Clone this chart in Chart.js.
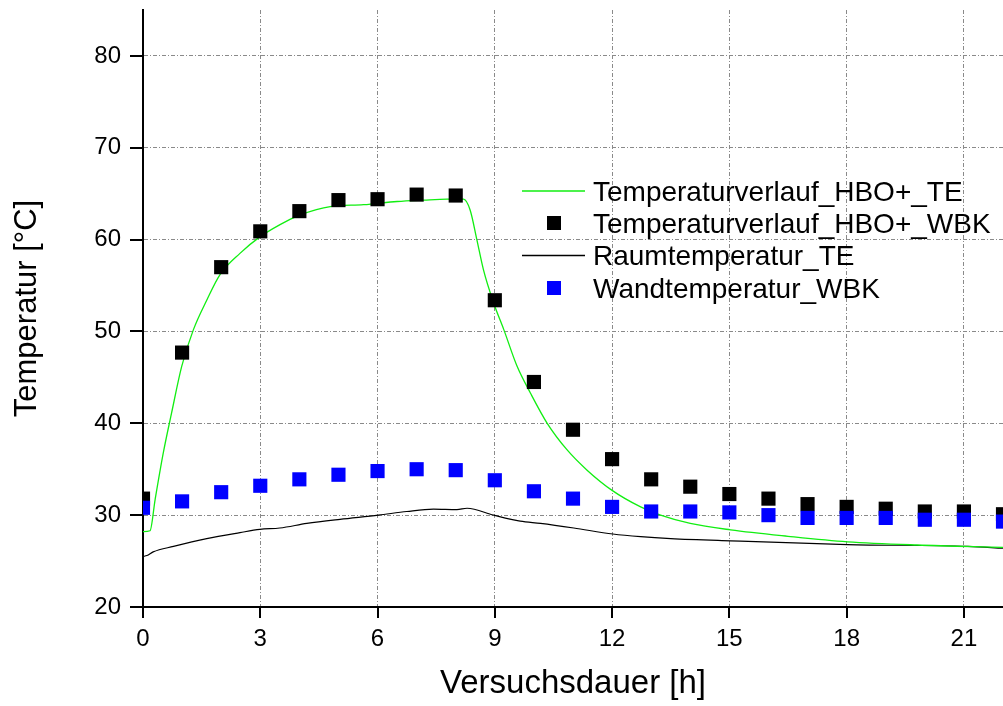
<!DOCTYPE html>
<html>
<head>
<meta charset="utf-8">
<script src="https://cdn.jsdelivr.net/npm/chart.js@4/dist/chart.umd.min.js"></script>
<style>
  html, body { margin: 0; padding: 0; background: #fff; }
  canvas { display: block; }
</style>
</head>
<body>
<canvas id="chart" width="1003" height="706"></canvas>
<script>
// Messpunkte (WBK) stündlich
const hours = [0, 1, 2, 3, 4, 5, 6, 7, 8, 9, 10, 11, 12, 13, 14, 15, 16, 17, 18, 19, 20, 21, 22];
const hboWbk = [31.8, 47.7, 57.0, 60.9, 63.1, 64.3, 64.4, 64.9, 64.8, 53.4, 44.5, 39.3, 36.1,
  33.9, 33.1, 32.3, 31.8, 31.2, 30.9, 30.7, 30.4, 30.4, 30.1];
const wandWbk = [30.8, 31.5, 32.5, 33.2, 33.9, 34.4, 34.8, 35.0, 34.9, 33.8, 32.6, 31.8, 30.9,
  30.4, 30.4, 30.3, 30.0, 29.7, 29.7, 29.7, 29.5, 29.5, 29.3];

// Thermoelement-Verläufe
const hboTeX = [0, 0.18, 0.31, 0.52, 0.73, 0.99, 1.29, 1.63, 1.97, 2.48, 2.99, 3.76, 4.02, 4.79,
  5.64, 6.5, 7.18, 7.78, 8.2, 8.37, 8.54, 8.71, 8.97, 9.23, 9.57, 9.91, 10.34, 10.85, 11.36,
  12.0, 12.73, 13.24, 14.0, 15.03, 16.5, 18.02, 19.8, 22.0];
const hboTeY = [28.2, 28.3, 31.7, 36.8, 41.1, 46.2, 50.2, 53.4, 56.2, 58.5, 60.3, 62.2, 62.7, 63.6,
  63.8, 64.15, 64.3, 64.4, 64.4, 63.2, 60.0, 56.7, 53.1, 50.2, 46.2, 43.3, 40.0, 37.1, 34.9,
  32.7, 30.9, 30.0, 29.1, 28.4, 27.7, 27.1, 26.75, 26.5];
const raumTeX = [0, 0.1, 0.26, 0.78, 1.63, 2.48, 2.99, 3.5, 4.19, 5.04, 6.02, 6.75, 7.43, 8.03,
  8.29, 8.97, 9.65, 10.17, 11.02, 12.02, 12.73, 13.5, 15.03, 18.02, 21.1, 22.0];
const raumTeY = [25.5, 25.6, 26.0, 26.6, 27.45, 28.1, 28.45, 28.6, 29.1, 29.55, 30.0, 30.4, 30.65, 30.6,
  30.75, 30.0, 29.35, 29.1, 28.6, 27.95, 27.66, 27.45, 27.2, 26.8, 26.6, 26.4];

const seriesNames = ['Temperaturverlauf_HBO+_TE', 'Temperaturverlauf_HBO+_WBK', 'Raumtemperatur_TE', 'Wandtemperatur_WBK'];
const xTickVals = [0, 1.5, 3, 4.5, 6, 7.5, 9, 10.5, 12, 13.5, 15, 16.5, 18, 19.5, 21];
const xMajor = [0, 3, 6, 9, 12, 15, 18, 21];
const yTickVals = [20, 25, 30, 35, 40, 45, 50, 55, 60, 65, 70, 75, 80, 85];
const yMajor = [20, 30, 40, 50, 60, 70, 80];

const FONT = '"Liberation Sans", Arial, sans-serif';
const toXY = (xs, ys) => xs.map((x, i) => ({ x: x, y: ys[i] }));

const noPad = (s) => {
  s.paddingTop = 0; s.paddingBottom = 0; s.paddingLeft = 0; s.paddingRight = 0;
};

// Achsenstriche (Haupt/Neben) + Legende im Diagramm
const extras = {
  id: 'extras',
  afterDraw(chart) {
    const ctx = chart.ctx;
    const xs = chart.scales.x, ys = chart.scales.y;
    ctx.save();
    ctx.strokeStyle = '#000';
    ctx.lineWidth = 2;
    ctx.beginPath();
    xs.ticks.forEach(t => {
      const px = Math.round(xs.getPixelForValue(t.value));
      const len = xMajor.includes(t.value) ? 11 : 5;
      ctx.moveTo(px, xs.top); ctx.lineTo(px, xs.top + len);
    });
    ys.ticks.forEach(t => {
      const py = Math.round(ys.getPixelForValue(t.value));
      const len = yMajor.includes(t.value) ? 13 : 6;
      ctx.moveTo(ys.right, py); ctx.lineTo(ys.right - len, py);
    });
    ctx.stroke();

    // legend
    const rowY = [191, 223, 255.5, 288];
    ctx.font = '28px ' + FONT;
    ctx.textBaseline = 'alphabetic';
    chart.data.datasets.forEach((ds, r) => {
      const y = rowY[r];
      if (ds.showLine === false) {
        ctx.fillStyle = ds.backgroundColor;
        ctx.fillRect(547, y - 7, 14, 14);
      } else {
        ctx.strokeStyle = ds.borderColor;
        ctx.lineWidth = 1.5;
        ctx.beginPath();
        ctx.moveTo(522, y); ctx.lineTo(585, y);
        ctx.stroke();
      }
      ctx.fillStyle = '#000';
      ctx.fillText(ds.label, 593, y + 9.5);
    });
    ctx.restore();
  }
};

new Chart(document.getElementById('chart').getContext('2d'), {
  type: 'line',
  data: {
    datasets: [
      {
        label: seriesNames[0],
        data: toXY(hboTeX, hboTeY),
        borderColor: '#11ee11',
        borderWidth: 1.3,
        pointRadius: 0,
        cubicInterpolationMode: 'monotone',
        clip: 0,
        order: 2,
      },
      {
        label: seriesNames[1],
        data: toXY(hours, hboWbk),
        showLine: false,
        pointStyle: 'rect',
        pointRadius: 10,
        backgroundColor: '#000000',
        borderColor: '#000000',
        borderWidth: 0,
        clip: 0,
        order: 1,
      },
      {
        label: seriesNames[2],
        data: toXY(raumTeX, raumTeY),
        borderColor: '#000000',
        borderWidth: 1.2,
        pointRadius: 0,
        cubicInterpolationMode: 'monotone',
        clip: 0,
        order: 3,
      },
      {
        label: seriesNames[3],
        data: toXY(hours, wandWbk),
        showLine: false,
        pointStyle: 'rect',
        pointRadius: 10,
        backgroundColor: '#0000ff',
        borderColor: '#0000ff',
        borderWidth: 0,
        clip: 0,
        order: 0,
      },
    ],
  },
  options: {
    responsive: false,
    animation: false,
    devicePixelRatio: 1,
    layout: { autoPadding: false, padding: { top: 10, right: 0, left: 0, bottom: 0 } },
    plugins: { legend: { display: false }, tooltip: { enabled: false } },
    scales: {
      x: {
        type: 'linear',
        min: 0,
        max: 22,
        afterBuildTicks: (s) => { s.ticks = xTickVals.map(v => ({ value: v })); },
        afterFit: (s) => { s.height = 99; noPad(s); },
        ticks: {
          padding: 18,
          color: '#000',
          font: { family: FONT, size: 24 },
          maxRotation: 0,
          autoSkip: false,
          callback: (v) => (xMajor.includes(v) ? String(v) : null),
        },
        grid: {
          drawTicks: false,
          color: '#8a8a8a',
          lineWidth: 1,
        },
        border: { display: true, color: '#000', width: 2, dash: [4, 2, 1, 2] },
        title: {
          display: true,
          text: 'Versuchsdauer [h]',
          color: '#000',
          font: { family: FONT, size: 33 },
          padding: { top: 0, bottom: 2 },
        },
      },
      y: {
        min: 20,
        max: 85,
        afterBuildTicks: (s) => { s.ticks = yTickVals.map(v => ({ value: v })); },
        afterFit: (s) => { s.width = 143; noPad(s); },
        ticks: {
          padding: 22,
          color: '#000',
          font: { family: FONT, size: 24 },
          autoSkip: false,
          callback: (v) => (yMajor.includes(v) ? String(v) : null),
        },
        grid: {
          drawTicks: false,
          color: '#8a8a8a',
          lineWidth: 1,
        },
        border: { display: true, color: '#000', width: 2, dash: [4, 2, 1, 2] },
        title: {
          display: true,
          text: 'Temperatur [°C]',
          color: '#000',
          font: { family: FONT, size: 31 },
          padding: { top: 9, bottom: 0 },
        },
      },
    },
  },
  plugins: [extras],
});
</script>
</body>
</html>
